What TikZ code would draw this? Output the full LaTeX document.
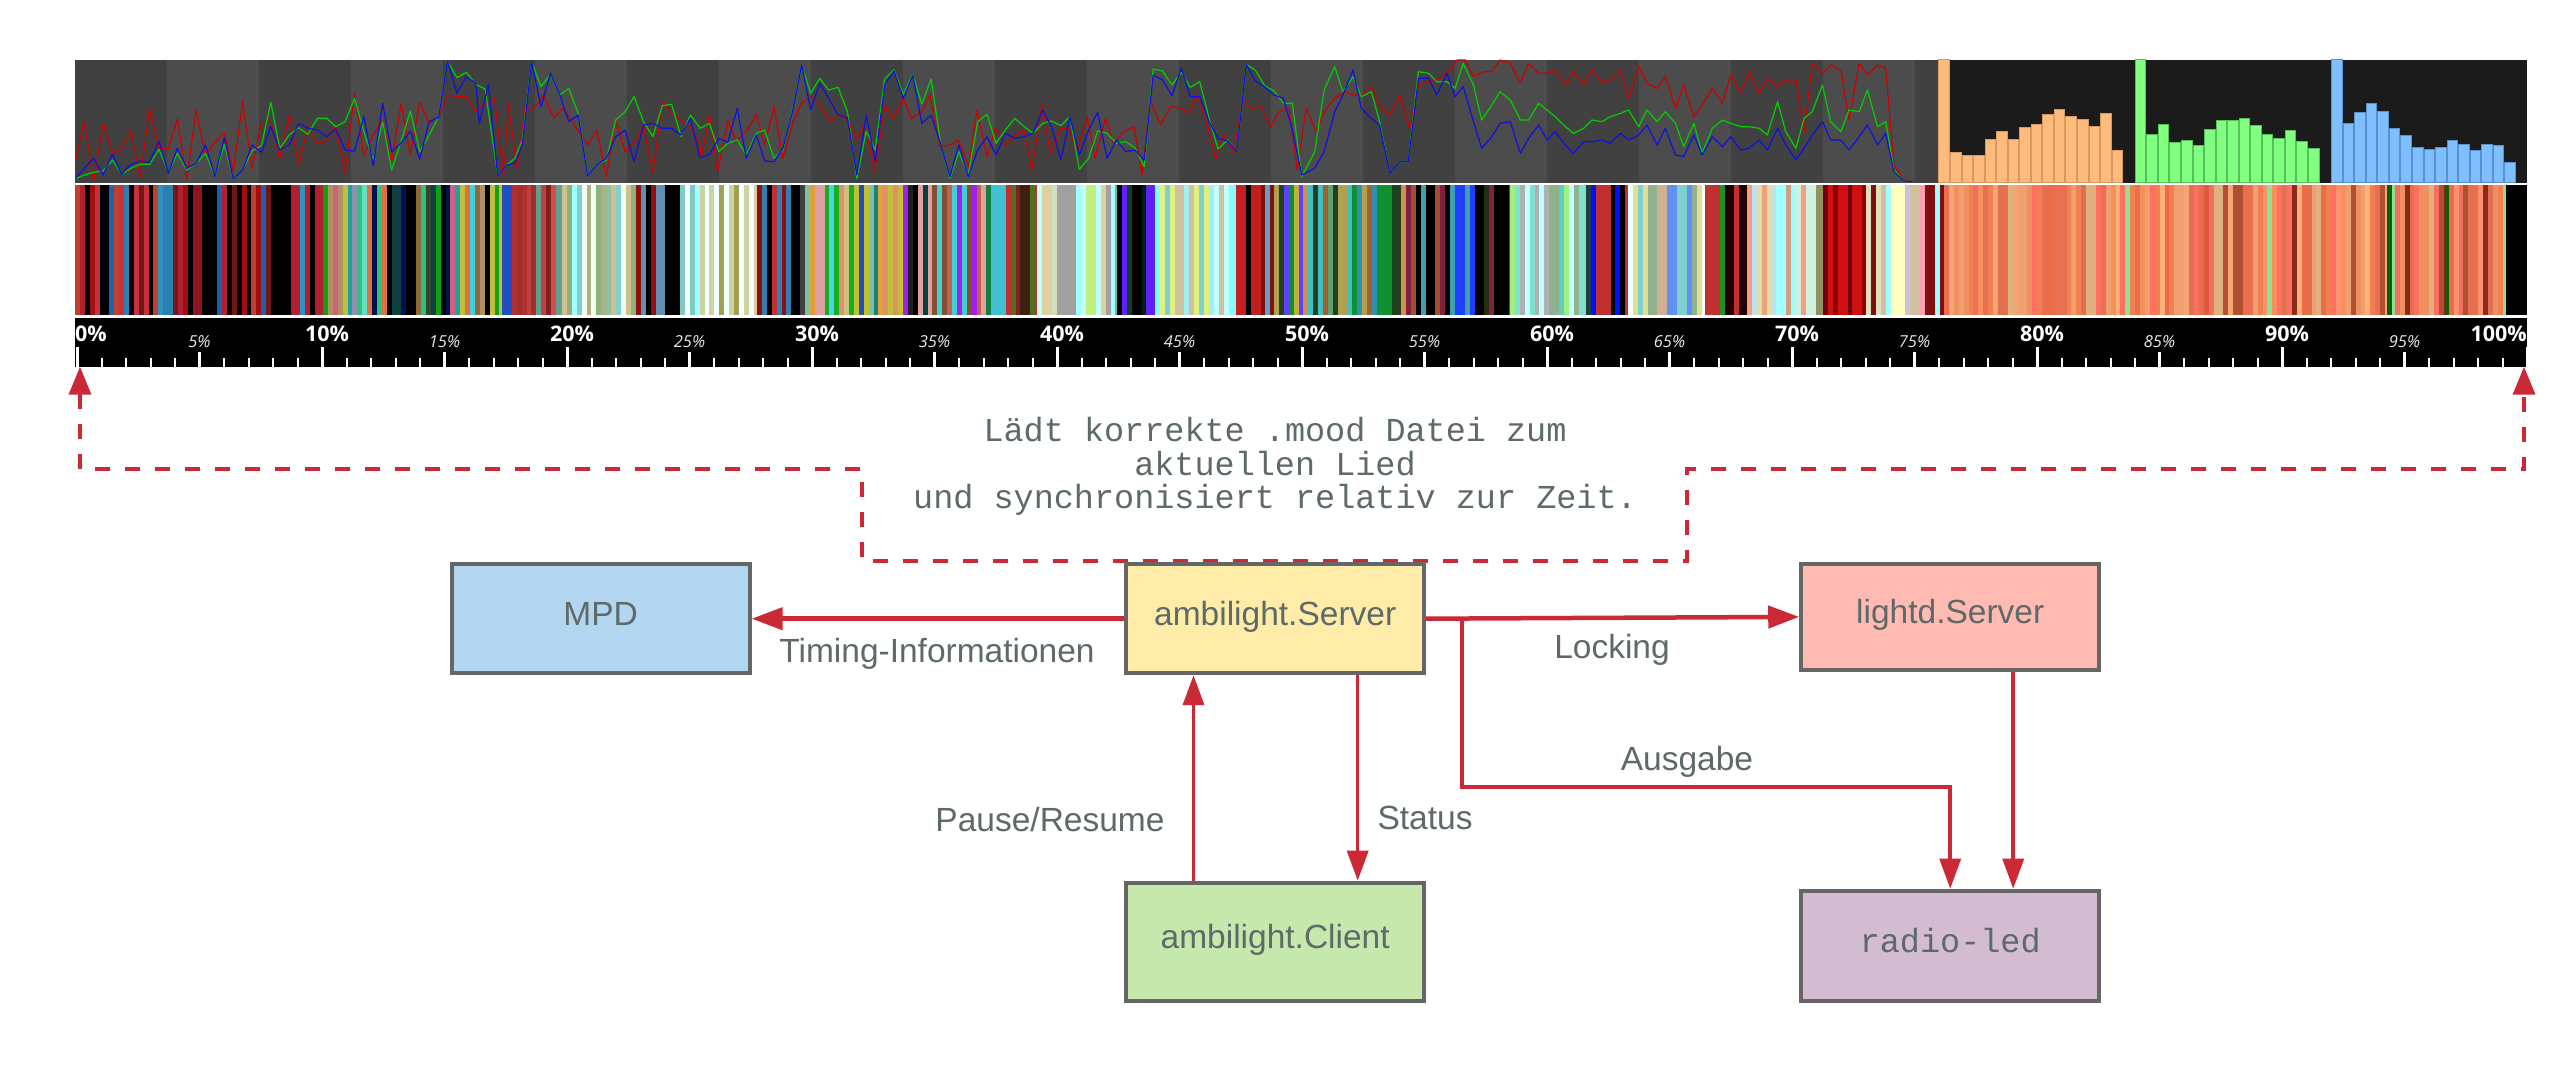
\documentclass[tikz,border=0pt]{standalone}
\usepackage{fontspec}
\setmainfont{Liberation Sans}
\newfontfamily\monofont{Liberation Mono}
\newfontfamily\rulerfont{Open Sans}
\usetikzlibrary{arrows.meta}
\definecolor{txtc}{RGB}{94,105,105}
\definecolor{arrc}{RGB}{204,41,54}
\definecolor{bordc}{RGB}{102,102,102}
\definecolor{mpdc}{HTML}{B3D6F0}
\definecolor{srvc}{HTML}{FFECA8}
\definecolor{ldc}{HTML}{FFBBB2}
\definecolor{clc}{HTML}{C7E8AC}
\definecolor{rlc}{HTML}{D3BBD1}
\definecolor{bandA}{HTML}{414141}
\definecolor{bandB}{HTML}{4C4C4C}
\definecolor{histbg}{HTML}{1B1B1B}
\definecolor{lnr}{HTML}{D00000}
\definecolor{lng}{HTML}{00D000}
\definecolor{lnb}{HTML}{1010E0}
\definecolor{orf}{HTML}{FFBB7B}
\definecolor{ord}{HTML}{D89A60}
\definecolor{grf}{HTML}{80FF80}
\definecolor{grd}{HTML}{55C055}
\definecolor{blf}{HTML}{80BFFF}
\definecolor{bld}{HTML}{5A90D0}
\definecolor{dkgr}{HTML}{0A600A}
\definecolor{minl}{HTML}{E8E8E8}

% stripe zone: start x, end x, palette (array of hex strings)
\newcommand\stz[3]{%
  \pgfmathtruncatemacro\nz{dim(#3)}%
  \pgfmathtruncatemacro\ns{ceil((#2-#1)/4.9)-1}%
  \foreach \s in {0,...,\ns}{%
    \pgfmathsetmacro\xa{#1+4.9*\s}%
    \pgfmathtruncatemacro\kk{min(floor(rnd*\nz),\nz-1)}%
    \pgfmathparse{#3[\kk]}%
    \xdef\curhex{\pgfmathresult}%
    \definecolor{sc}{HTML}{\curhex}%
    \fill[sc] (\xa,185) rectangle ({min(\xa+5.3,#2)},315);%
  }%
}
% add points to a line: path macro, x origin, list of d/v (x = origin + d/2.45, y = 55 + v/3)
\newcommand\addpts[3]{%
  \foreach \dd/\vv in {#3}{%
    \pgfmathsetmacro\xx{#2+\dd/2.45}%
    \pgfmathsetmacro\yy{55+\vv/3}%
    \xdef#1{#1 (\xx,\yy)}%
  }%
}

\begin{document}
\begin{tikzpicture}[x=1pt,y=-1pt,
  box/.style={draw=bordc, line width=4pt, minimum width=298pt, minimum height=109pt,
    text height=24pt, text depth=11.4pt, inner sep=0pt, text=txtc,
    font=\fontsize{33.5}{40}\selectfont},
  lab/.style={inner sep=0pt, text=txtc, font=\fontsize{33.5}{40}\selectfont, anchor=base},
  mlab/.style={inner sep=0pt, text=txtc, font=\monofont\fontsize{33.5}{40}\selectfont, anchor=base},
  conn/.style={draw=arrc, line width=3.5pt, -{Triangle[length=30pt,width=21pt]}},
  connthick/.style={draw=arrc, line width=4.5pt, -{Triangle[length=31pt,width=22pt]}},
  dashconn/.style={draw=arrc, line width=3.5pt, dash pattern=on 15pt off 15pt,
    {Triangle[length=28pt,width=22pt]}-{Triangle[length=28pt,width=22pt]}},
  majl/.style={inner sep=0pt, text=white, font=\rulerfont\bfseries\fontsize{21.5}{21.5}\selectfont},
  minlb/.style={inner sep=0pt, text=minl, font=\rulerfont\itshape\fontsize{16.5}{16.5}\selectfont, anchor=base}
]
\useasboundingbox (0,0) rectangle (2550,1078);
\fill[white] (0,0) rectangle (2550,1078);

% ---------- line chart background ----------
\foreach \k in {0,...,20}{
  \pgfmathtruncatemacro\od{mod(\k,2)}
  \ifnum\od=0 \def\bc{bandA}\else\def\bc{bandB}\fi
  \pgfmathsetmacro\xa{75+92*\k}
  \pgfmathsetmacro\xb{min(75+92*(\k+1),1938.4)}
  \fill[fill=\bc] (\xa,60) rectangle (\xb,182.7);
}

% ---------- line data ----------
\gdef\pR{}\gdef\pG{}\gdef\pB{}
\addpts\pG{70}{12/372,35/360,58/352,81/348,104/315,126/358,149/340,172/328,195/328,218/283,241/352,263/295,286/345,309/325,332/295,355/365,378/268,400/372,423/345,446/288,469/272,492/142,514/280,537/240,560/218,583/238,606/190,629/190,651/215,674/200,697/130,720/230,743/315,766/200,788/345,811/260,834/168,857/290,880/240,903/185,925/18,948/68,971/52,994/88,1017/102,1048/362,1070/330,1090/310,1108/255,1131/20,1154/95,1177/58,1200/120,1222/100,1245/175,1268/360,1291/330,1314/315,1337/195,1360/170,1382/125,1405/200,1428/245,1451/152,1474/148,1497/245,1520/180,1543/218}
\addpts\pG{685}{37/220,60/205,83/290,105/265,128/255,150/300,175/235,195/225,218/310,240/285,263/165,286/32,308/115,330/70,352/105,375/97,398/170,421/370,444/228,466/285,489/72,512/45,535/118,558/58,580/147,603/72,626/262,649/370,671/290,694/360,717/200,740/178,762/265,785/225,808/190,831/215,853/235,876/205,898/198,921/212,943/185,966/343,989/310,1011/228,1034/235,1057/265,1080/260,1102/278,1125/335,1147/42,1170/48,1193/90,1216/52,1238/97,1261/80,1284/190,1306/282,1329/255,1352/290,1375/28,1397/45,1420/92,1443/108,1466/145,1488/145,1511/365}
\addpts\pG{1300}{36/290,59/105,85/35,105/110,130/65,150/125,175/110,195/200,220/355,245/320,265/320,290/50,315/55,335/80,360/80,380/100,400/25,425/90,445/195,470/150,490/110,515/135,540/195,560/195,585/145,605/165,625/185,650/215,670/235,695/220,715/195,740/200,760/185,785/175,805/165,830/215,850/165,875/200,895/170,920/205,940/275,965/205,985/295,1010/220,1035/195,1055/205,1080/215,1100/215,1125/220,1145/240,1170/140,1190/230,1215/280,1235/190,1255/170,1280/90,1300/200,1325/230,1345/165,1370/170,1390/105,1415/215,1435/200,1455/345,1480/378,1500/380}
\addpts\pB{70}{12/372,35/340,58/310,81/360,104/298,126/358,149/328,172/318,195/322,218/258,241/355,263/280,286/340,309/325,332/270,355/365,378/248,400/372,423/345,446/270,469/292,492/215,514/285,537/270,560/205,583/220,606/225,629/245,651/222,674/285,697/288,720/185,743/332,766/145,788/290,811/265,834/228,857/312,880/200,903/188,925/18,948/115,971/65,994/85,1003/205,1025/88,1048/362,1070/330,1090/325,1108/270,1131/20,1154/155,1177/55,1200/120,1222/200,1245/180,1268/362,1291/330,1314/310,1337/245,1360/225,1382/320,1405/210,1428/205,1451/220,1474/220,1497/240,1520/190,1543/308}
\addpts\pB{685}{37/308,60/298,83/250,105/262,128/160,150/310,175/240,195/318,218/320,240/280,263/170,286/30,308/165,330/85,352/130,375/180,398/188,421/360,444/180,466/320,489/90,512/48,535/130,558/60,580/205,603/180,626/265,649/365,671/270,694/365,717/285,740/245,762/300,785/235,808/250,831/245,853/235,876/165,898/215,921/315,943/185,966/300,989/225,1011/172,1034/310,1057/255,1080/290,1102/285,1125/315,1147/60,1170/75,1193/122,1216/40,1238/125,1261/125,1284/200,1306/250,1329/258,1352/290,1375/28,1397/78,1420/95,1443/120,1466/130,1488/225,1511/360}
\addpts\pB{1300}{36/340,59/290,85/170,105/120,130/45,150/160,175/190,195/210,220/355,245/320,265/320,290/70,315/70,335/120,360/55,380/125,400/95,425/200,445/280,470/245,490/205,515/200,540/295,560/250,585/210,605/255,625/230,650/270,670/295,695/260,715/260,740/255,760/265,785/235,805/255,830/240,850/210,875/270,895/220,920/300,940/305,965/240,985/300,1010/245,1035/275,1055/245,1080/285,1100/280,1125/255,1145/285,1170/220,1190/270,1215/315,1235/280,1255/240,1280/200,1300/255,1325/255,1345/285,1370/245,1390/210,1415/270,1435/235,1455/350,1480/378,1500/380}
\addpts\pR{70}{12/325,35/198,58/380,81/205,104/295,126/283,149/225,172/368,195/160,218/280,241/280,263/192,286/370,309/165,332/300,355/262,378/233,400/350,423/140,446/340,469/200,492/200,514/310,537/180,560/330,583/215,606/265,629/258,651/215,674/355,697/115,720/300,743/240,766/195,788/320,811/145,834/300,857/140,880/205,903/185,925/120,948/125,971/125,994/170,1017/145,1040/130,1062/365,1074/148,1095/340,1115/160,1138/158,1160/120,1185/190,1207/160,1230/200,1268/270,1291/225,1314/365,1337/195,1360/290,1382/265,1405/210,1428/355,1451/140,1474/175,1497/195,1520/215,1543/270}
\addpts\pR{685}{40/305,60/180,80/350,105/195,125/260,150/230,175/178,195/270,218/155,240/310,265/200,285/145,310/125,330/150,355/200,375/180,400/195,420/255,440/205,465/350,490/150,510/190,535/130,555/190,580/170,600/120,625/275,650/270,670/255,695/335,715/165,740/305,760/220,785/270,805/245,830/225,850/345,875/145,895/295,920/220,940/222,960/290,985/185,1005/310,1030/190,1050/265,1075/230,1100/215,1120/360,1140/135,1165/210,1190/155,1215/160,1235/175,1255/120,1280/210,1300/312,1320/240,1345/290,1365/140,1390/160,1410/155,1435/215,1455/170,1480/160,1500/345}
\addpts\pR{1300}{15/160,40/230,60/170,85/130,110/110,130/120,150/120,175/95,195/155,220/180,245/120,268/220,290/90,315/80,340/70,360/55,385/15,405/15,425/65,450/50,470/50,490/15,515/25,540/85,560/25,585/55,605/55,625/45,650/90,670/50,695/90,715/45,740/85,760/75,785/45,805/130,830/35,850/85,875/100,895/65,920/160,940/90,965/185,985/150,1010/100,1035/145,1055/60,1080/115,1100/50,1125/115,1145/70,1170/95,1190/75,1215/75,1235/235,1255/25,1280/55,1300/30,1325/45,1345/195,1370/25,1390/60,1415/30,1435/40,1455/330,1480/375,1500/380}
\begin{scope}
\clip (75,60) rectangle (1938.4,182.7);
\edef\tmp{\noexpand\draw[lnr, line width=1.2pt, line join=round] plot coordinates {\pR};}\tmp
\edef\tmp{\noexpand\draw[lng, line width=1.2pt, line join=round] plot coordinates {\pG};}\tmp
\edef\tmp{\noexpand\draw[lnb, line width=1.2pt, line join=round] plot coordinates {\pB};}\tmp
\end{scope}

% ---------- histograms ----------
\fill[histbg] (1938.4,60) rectangle (2527,182.7);
\foreach \d [count=\n from 0] in {30,308,318,316,270,244,268,233,223,195,178,199,210,231,191,303}
  \filldraw[fill=orf, draw=ord, line width=1pt] ({1938.4+11.55*\n+0.5},{50+\d/3}) rectangle ({1938.4+11.55*\n+11.05},182.2);
\foreach \d [count=\n from 0] in {30,253,225,279,273,287,240,211,211,206,227,253,266,243,276,297}
  \filldraw[fill=grf, draw=grd, line width=1pt] ({2134.75+11.55*\n+0.5},{50+\d/3}) rectangle ({2134.75+11.55*\n+11.05},182.2);
\foreach \d [count=\n from 0] in {30,222,188,160,186,237,257,294,300,294,271,284,303,283,286,337}
  \filldraw[fill=blf, draw=bld, line width=1pt] ({2331.1+11.55*\n+0.5},{50+\d/3}) rectangle ({2331.1+11.55*\n+11.05},182.2);

% ---------- colour stripes ----------
\pgfmathsetseed{777}
\stz{75}{323}{{"000000","000000","000000","000000","8B1520","B02030","C83040","A01010","1F5FB0","2A80B0","3090C0","701818","C04030"}}
\stz{323}{502}{{"E07040","30C080","20A0A0","104040","001050","B09060","8E6A40","9090B0","40D0E0","10A010","C0C040","E070A0","000000","304830","60E0C0","D06080"}}
\stz{502}{562}{{"C04040","A03028","D05050","60A090","2050C0","802020","B03030"}}
\stz{562}{636}{{"A0FFFF","C0F0F0","B0B080","90C0A0","D0C090","F0FFF0","80D0D0","E0E0C0","90B080"}}
\stz{636}{680}{{"000000","000000","C02030","901010","6090B0"}}
\stz{680}{757}{{"A0FFFF","F0FFFF","E0C8A0","80C8C8","A0A050","C0F0F0","D0D0A0"}}
\stz{757}{800}{{"000000","000000","8B1010","C03030","3080B0"}}
\stz{800}{903}{{"E09070","D0C080","60D0E0","10B020","C0C030","208080","2050B0","E0A040","10B020","E0A0A0","50D0E0","404040","80C0A0","30A0E0"}}
\stz{903}{991}{{"40D0D0","108040","004040","1020A0","000000","A020F0","E0A0A0","805030","202020","C06050"}}
\stz{991}{1037}{{"507020","C03030","402010","40C0D0","000000","802020"}}
\stz{1037}{1117}{{"A0FFFF","D0E0C0","C0F080","60C0B0","A0A0A0","C0FFFF","E0D0A0"}}
\stz{1117}{1155}{{"000000","000000","6020FF","104020","002010"}}
\stz{1155}{1236}{{"80FFFF","A0F0F0","D0C0A0","80D0D0","E0F080","C0FFFF","90B0A0"}}
\stz{1236}{1274}{{"000000","C02020","801010","60A0C0"}}
\stz{1274}{1406}{{"E0A080","B0A050","109030","3090B0","C0B040","6040FF","40C0C0","204020","D09050","60A070","208080","A06030"}}
\stz{1406}{1510}{{"000000","000000","2040FF","A05030","802040","A040C0","203010","40A0B0","903020","000020"}}
\stz{1510}{1586}{{"A0FFFF","60D0C0","90B090","A0F080","B0B0B0","80E0D0","C0FFFF"}}
\stz{1586}{1628}{{"000000","0010FF","C03030","204040","000000","A03030"}}
\stz{1628}{1705}{{"C0FFFF","F0FFFF","90B090","90C0E0","D0B090","E0E090","80D0D0","6090F0"}}
\stz{1705}{1747}{{"200000","C03030","209020","800000"}}
\stz{1747}{1823}{{"A0FFFF","D0F0E0","F0A080","D0A080","909060","C0E0F0","E0E0A0"}}
\stz{1823}{1866}{{"700010","D01010","900000","C02020"}}
\stz{1866}{1944}{{"A0FFFF","D0C0A0","D0C0E0","FFA0B0","FFFFC0","FFFFFF","E0E0C0","801010"}}
\stz{1944}{2506}{{"F08050","EE6A45","F0A070","E07050","FF7060","B05030","E0B080","F09060","E87050","FF9070","F5A575","F07060","F08050","E8704A","FF7060","E87050","F8905C","90E090","8A2A1A","F0A070","FFB07A","E05A3A"}}
\fill[dkgr] (2387,185) rectangle (2392,315);
\fill[dkgr] (2445,185) rectangle (2449,315);
\fill[black] (2506,185) rectangle (2527,315);

% ---------- ruler ----------
\fill[black] (75,318) rectangle (2527,366.7);
\foreach \p in {0,...,100}
  \fill[white] ({77+24.5*\p-1},358.4) rectangle ({77+24.5*\p+1},366.7);
\foreach \p in {5,15,...,95}
  \fill[white] ({77+24.5*\p-1.3},351.7) rectangle ({77+24.5*\p+1.3},366.7);
\foreach \p in {0,10,...,100}
  \fill[white] ({77+24.5*\p-1.5},346.7) rectangle ({77+24.5*\p+1.5},366.7);
\node[majl, anchor=base west] (t0) at (75,341) {0\%};
\foreach \p in {10,20,...,90}
  \node[majl, anchor=base] (t\p) at ({77+24.5*\p+5},341) {\p\%};
\node[majl, anchor=base east] (t100) at (2527,341) {100\%};
\foreach \p in {5,15,...,95}
  \node[minlb] (m\p) at ({77+24.5*\p},347.7) {\p\%};

% ---------- dashed sync connector ----------
\coordinate (r0) at (80,366.7);
\coordinate (r100) at (2524,366.7);
\node[minimum width=825pt, minimum height=92pt, inner sep=0pt, outer sep=0pt] (mf) at (1274.5,515) {};
\draw[dashconn] (r0) |- (mf.north west) -- (mf.south west) -- (mf.south east) -- (mf.north east) -| (r100);
\node[mlab] (ml1) at (1275,441.3) {Lädt korrekte .mood Datei zum};
\node[mlab] (ml2) at (1275,475) {aktuellen Lied};
\node[mlab] (ml3) at (1275,508.5) {und synchronisiert relativ zur Zeit.};

% ---------- boxes ----------
\node[box, fill=mpdc] (mpd) at (600.7,618.7) {MPD};
\node[box, fill=srvc] (srv) at (1275.2,618.7) {ambilight.Server};
\node[box, fill=ldc, minimum height=105.7pt] (ld) at (1950.2,616.9) {lightd.Server};
\node[box, fill=clc, minimum height=118pt] (cli) at (1275.2,941.7) {ambilight.Client};
\node[box, fill=rlc, minimum height=110.6pt, font=\monofont\fontsize{33.5}{40}\selectfont] (rl) at (1950.2,946) {radio-led};

% ---------- connectors ----------
\draw[connthick] (srv.west) -- (mpd.east);
\draw[connthick] (srv.east) -- (ld.west);
\coordinate (aj) at (1462,618.4);
\coordinate (ab) at (1462,787);
\draw[conn] (aj) -- (ab) -| (rl.north);
\draw[conn] ([xshift=63pt]ld.south) -- ([xshift=63pt]rl.north);
\draw[conn] ([xshift=82.5pt]srv.south) -- ([xshift=82.5pt]cli.north);
\draw[conn] ([xshift=-81.7pt]cli.north) -- ([xshift=-81.7pt]srv.south);

% ---------- connector labels ----------
\node[lab] (ltim) at (937,662) {Timing-Informationen};
\node[lab] (llock) at (1612,658.3) {Locking};
\node[lab] (lausg) at (1687,770.7) {Ausgabe};
\node[lab] (lstat) at (1425,829.6) {Status};
\node[lab] (lpause) at (1050,831.6) {Pause/Resume};
\end{tikzpicture}
\end{document}
